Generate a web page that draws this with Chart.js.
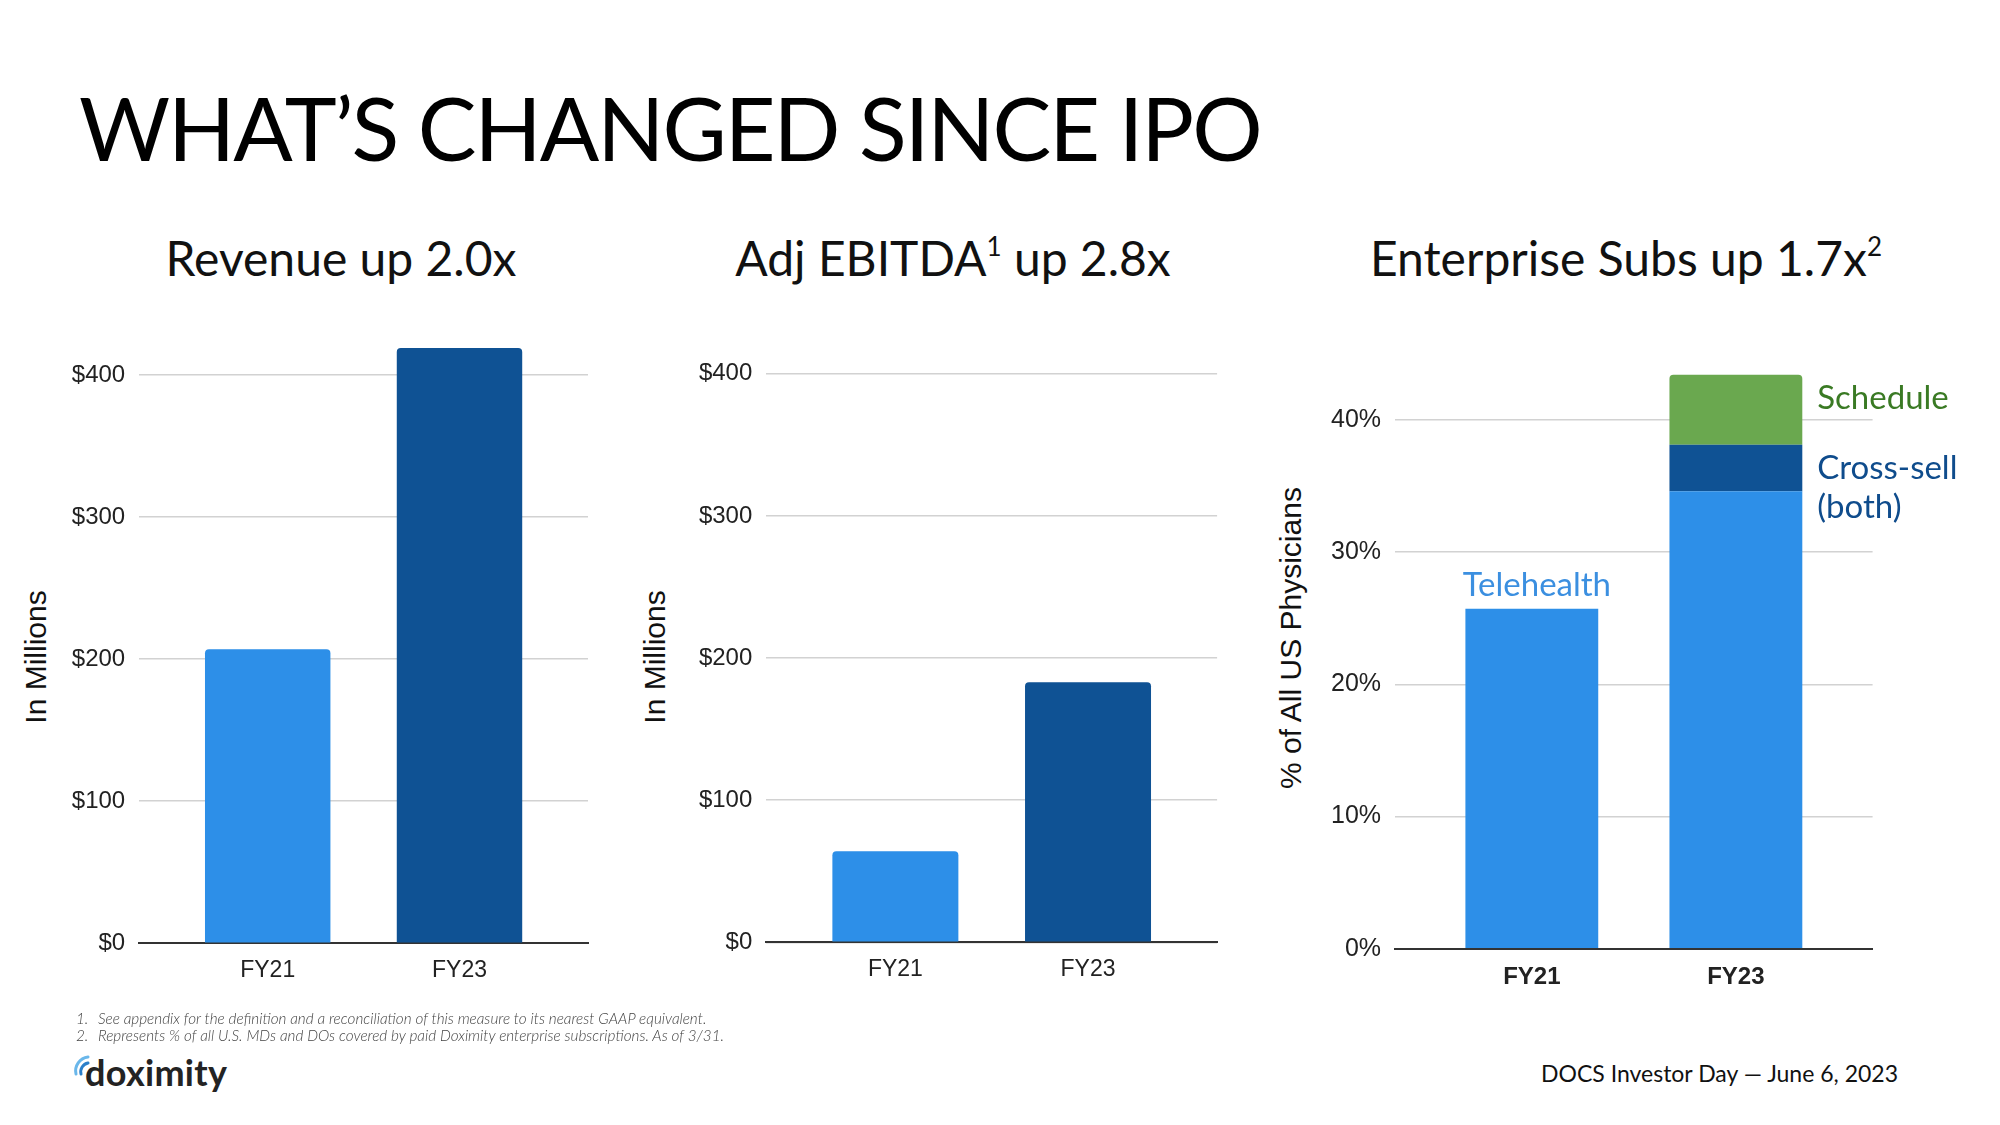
<!DOCTYPE html>
<html lang="en">
<head>
  <meta charset="UTF-8"/>
  <title>What's Changed Since IPO</title>
  <script src="https://cdn.jsdelivr.net/npm/chart.js"></script>
  <style>
    body {
      margin: 0;
      width: 2000px;
      height: 1125px;
      position: relative;
      overflow: hidden;
      background: #fff;
      font-family: 'Lato', 'Noto Sans', sans-serif;
      color: #111;
    }
    .abs { position: absolute; white-space: nowrap; }
    h1 {
      position: absolute;
      left: 79px;
      top: 83px;
      margin: 0;
      font-weight: 400;
      font-size: 88px;
      letter-spacing: -2px;
      line-height: 1;
      color: #000;
    }
    .sub {
      position: absolute;
      top: 234px;
      font-size: 48px;
      line-height: 1;
      transform: translateX(-50%);
      white-space: nowrap;
    }
    .sub sup { font-size: 26px; vertical-align: 20px; line-height: 0; }
    .ytitle {
      position: absolute;
      font-family: 'Liberation Sans', Arial, sans-serif;
      font-size: 30px;
      color: #111;
      transform: translate(-50%, -50%) rotate(-90deg);
      white-space: nowrap;
    }
    canvas { position: absolute; }
    .notes {
      position: absolute;
      left: 76px;
      top: 1010px;
      font-size: 15.3px;
      line-height: 17px;
      font-style: italic;
      font-weight: 300;
      color: #444;
    }
    .notes span { display: inline-block; width: 22px; }
    .logo {
      position: absolute;
      left: 85px;
      top: 1054px;
      font-size: 36px;
      font-weight: 700;
      line-height: 1;
      color: #232323;
      letter-spacing: 0.3px;
    }
    .footer {
      position: absolute;
      left: 1541px;
      top: 1062px;
      font-size: 23px;
      line-height: 1;
      color: #111;
    }
  </style>
</head>
<body>

  <h1>WHAT’S CHANGED SINCE IPO</h1>
  <div class="sub" style="left:341px">Revenue up 2.0x</div>
  <div class="sub" style="left:953px">Adj EBITDA<sup>1</sup> up 2.8x</div>
  <div class="sub" style="left:1626px">Enterprise Subs up 1.7x<sup>2</sup></div>

  <div class="ytitle" style="left:36px; top:657px">In Millions</div>
  <div class="ytitle" style="left:655px; top:657px">In Millions</div>
  <div class="ytitle" style="left:1291px; top:638px">% of All US Physicians</div>

  <canvas id="revenueChart" width="660" height="720" style="left:0; top:300px"></canvas>
  <canvas id="ebitdaChart" width="660" height="720" style="left:620px; top:300px"></canvas>
  <canvas id="subsChart" width="760" height="720" style="left:1240px; top:300px"></canvas>

  <div class="notes">
    <div><span>1.</span>See appendix for the definition and a reconciliation of this measure to its nearest GAAP equivalent.</div>
    <div><span>2.</span>Represents % of all U.S. MDs and DOs covered by paid Doximity enterprise subscriptions. As of 3/31.</div>
  </div>

  <svg class="abs" style="left:72px; top:1054px" width="20" height="22" viewBox="0 0 20 22">
    <path d="M4 20 A14 14 0 0 1 16 3" fill="none" stroke="#6ab7ea" stroke-width="3" stroke-linecap="round"/>
    <path d="M9 20 A9 9 0 0 1 16 9" fill="none" stroke="#2b7fc9" stroke-width="3" stroke-linecap="round"/>
  </svg>
  <div class="logo">doximity</div>

  <div class="footer">DOCS Investor Day — June 6, 2023</div>

  <script>
    const categories = ['FY21', 'FY23'];
    const revenue = [207, 419];
    const adjEbitda = [64, 183];
    const telehealth = [25.7, 34.6];
    const crossSell = [null, 3.5];
    const schedule = [null, 5.3];
    const seriesNames = ['Telehealth', 'Cross-sell\n(both)', 'Schedule'];
    const dollarTicks = [0, 100, 200, 300, 400];
    const pctTicks = [0, 10, 20, 30, 40];

    const LIGHT = '#2d8fe8';
    const DARK = '#0f5294';
    const GREEN = '#6aa84f';

    Chart.defaults.font.family = "'Liberation Sans', Arial, sans-serif";
    Chart.defaults.color = '#222';
    Chart.defaults.animation = false;

    // helper: points at category index i
    function points(values) {
      return values.map((v, i) => ({ x: i, y: v }));
    }

    function xScale(fontSize, bold) {
      return {
        type: 'linear',
        min: -0.67,
        max: 1.67,
        offset: false,
        stacked: true,
        afterBuildTicks: s => { s.ticks = categories.map((c, i) => ({ value: i })); },
        afterFit: s => { s.height = 60; s.paddingLeft = 0; s.paddingRight = 0; },
        grid: { display: false, drawTicks: false },
        border: { display: true, color: '#333', width: 2 },
        ticks: {
          padding: 14,
          autoSkip: false,
          maxRotation: 0,
          font: { size: fontSize, weight: bold ? 'bold' : 'normal' },
          color: '#222',
          callback: v => categories[v]
        }
      };
    }

    function yScale(tickValues, max, width, fontSize, fmt) {
      return {
        min: 0,
        max: max,
        stacked: true,
        afterBuildTicks: s => { s.ticks = tickValues.map(v => ({ value: v })); },
        afterFit: s => { s.width = width; s.paddingTop = 0; s.paddingBottom = 0; },
        grid: { color: '#d2d2d2', lineWidth: 1.5, drawTicks: false },
        border: { display: false },
        ticks: { padding: 14, font: { size: fontSize }, color: '#222', callback: fmt }
      };
    }

    const basePlugins = { legend: { display: false }, tooltip: { enabled: false } };

    // Revenue
    new Chart(document.getElementById('revenueChart'), {
      type: 'bar',
      data: {
        datasets: [{
          data: points(revenue),
          backgroundColor: [LIGHT, DARK],
          borderRadius: 4,
          borderSkipped: 'start',
          barPercentage: 0.654,
          categoryPercentage: 1
        }]
      },
      options: {
        responsive: false,
        layout: { padding: { left: 0, right: 72, top: 18.3, bottom: 16.8 } },
        plugins: basePlugins,
        scales: {
          x: xScale(23, false),
          y: yScale(dollarTicks, 440, 139.2, 24, v => '$' + v)
        }
      }
    });

    // Adj EBITDA
    new Chart(document.getElementById('ebitdaChart'), {
      type: 'bar',
      data: {
        datasets: [{
          data: points(adjEbitda),
          backgroundColor: [LIGHT, DARK],
          borderRadius: 4,
          borderSkipped: 'start',
          barPercentage: 0.654,
          categoryPercentage: 1
        }]
      },
      options: {
        responsive: false,
        layout: { padding: { left: 0, right: 62.9, top: 16.9, bottom: 17.7 } },
        plugins: basePlugins,
        scales: {
          x: xScale(23, false),
          y: yScale(dollarTicks, 440, 146.3, 24, v => '$' + v)
        }
      }
    });

    // labels next to the stacked segments
    const segmentLabels = {
      id: 'segmentLabels',
      afterDatasetsDraw(chart) {
        const ctx = chart.ctx;
        ctx.save();
        ctx.font = "33px Lato, 'Noto Sans', sans-serif";
        ctx.textBaseline = 'alphabetic';

        const tele = chart.getDatasetMeta(0).data[0];
        ctx.fillStyle = '#3b8fe0';
        ctx.textAlign = 'center';
        ctx.fillText(seriesNames[0], tele.x + 5, tele.y - 13);

        ctx.textAlign = 'left';
        const cross = chart.getDatasetMeta(1).data[1];
        const lx = cross.x + cross.width / 2 + 15;
        ctx.fillStyle = '#0f4c8c';
        seriesNames[1].split('\n').forEach((line, k) => {
          ctx.fillText(line, lx, cross.y + 34 + k * 39);
        });

        const sched = chart.getDatasetMeta(2).data[1];
        ctx.fillStyle = '#3a7a24';
        ctx.fillText(seriesNames[2], lx, sched.y + 34);
        ctx.restore();
      }
    };

    // Enterprise subs
    new Chart(document.getElementById('subsChart'), {
      type: 'bar',
      data: {
        datasets: [
          { label: seriesNames[0], data: points(telehealth), backgroundColor: LIGHT, borderRadius: 0 },
          { label: seriesNames[1], data: points(crossSell), backgroundColor: DARK, borderRadius: 0 },
          { label: seriesNames[2], data: points(schedule), backgroundColor: GREEN, borderRadius: 4, borderSkipped: 'start' }
        ].map(d => Object.assign(d, { barPercentage: 0.651, categoryPercentage: 1 }))
      },
      options: {
        responsive: false,
        layout: { padding: { left: 0, right: 127.4, top: 13.9, bottom: 11.2 } },
        plugins: basePlugins,
        scales: {
          x: xScale(24, true),
          y: yScale(pctTicks, 48, 155.1, 25, v => v + '%')
        }
      },
      plugins: [segmentLabels]
    });
  </script>
</body>
</html>
